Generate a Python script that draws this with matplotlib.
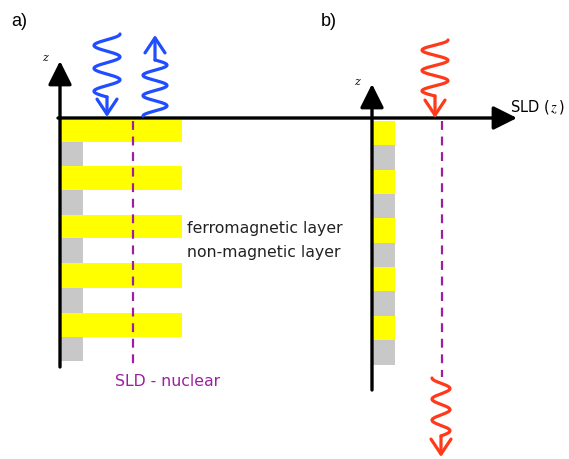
import matplotlib
matplotlib.use('Agg')
import matplotlib.pyplot as plt
import numpy as np
from matplotlib.patches import Rectangle

plt.rcParams['mathtext.fontset'] = 'stix'

W, H = 569, 459

# ---- data (layer boundaries, pixel-like depth units) ----
fm_top_a = [120, 166, 215, 263, 313]
fm_bot_a = [142, 190, 238, 288, 337]
nm_top_a = [142, 190, 238, 288, 337]
nm_bot_a = [166, 215, 263, 313, 361]
fm_top_b = [121, 170, 218, 267, 316]
fm_bot_b = [145, 194, 243, 291, 340]
nm_top_b = [145, 194, 243, 291, 340]
nm_bot_b = [170, 218, 267, 316, 365]
sld_fm_a, sld_nm_a = 122, 23      # bar lengths, panel a
sld_fm_b, sld_nm_b = 23, 23       # bar lengths, panel b
nuclear_a, nuclear_b = 133, 442   # nuclear SLD positions
labels_layers = ['ferromagnetic layer', 'non-magnetic layer']

YELLOW = '#ffff00'
GREY = '#c8c8c8'
PURPLE = '#9b1fa0'
BLUE = '#1f4dff'
RED = '#ff3a1a'

fig = plt.figure(figsize=(W / 100, H / 100), dpi=100)
ax = fig.add_axes([0, 0, 1, 1])
ax.set_xlim(0, W)
ax.set_ylim(H, 0)
ax.axis('off')

def layers(x0, tops, bots, length, color):
    for t, b in zip(tops, bots):
        ax.add_patch(Rectangle((x0, t), length, b - t, facecolor=color,
                               edgecolor='none', zorder=1))

# panel a
layers(60, fm_top_a, fm_bot_a, sld_fm_a, YELLOW)
layers(60, nm_top_a, nm_bot_a, sld_nm_a, GREY)
# panel b
layers(372, fm_top_b, fm_bot_b, sld_fm_b, YELLOW)
layers(372, nm_top_b, nm_bot_b, sld_nm_b, GREY)

# axes arrows
axkw = dict(arrowstyle='-|>,head_length=0.8,head_width=0.4', color='black',
            lw=2.4, mutation_scale=18, shrinkA=0, shrinkB=0)
ax.annotate('', xy=(60, 61), xytext=(60, 367), arrowprops=axkw, zorder=3)
ax.annotate('', xy=(372, 84), xytext=(372, 390), arrowprops=axkw, zorder=3)
ax.annotate('', xy=(517, 118), xytext=(58, 118), arrowprops=axkw, zorder=3)

# nuclear SLD dashed lines
ax.plot([nuclear_a, nuclear_a], [121, 366], color=PURPLE, lw=1.6,
        dashes=(4, 3), zorder=2)
ax.plot([nuclear_b, nuclear_b], [121, 377], color=PURPLE, lw=1.6,
        dashes=(4, 3), zorder=2)

# wavy neutron beams: start at a crest, end at the centre line
def squiggle(xc, y0, y1, amp, n_periods, color, sign=1):
    t = np.linspace(0, 1, 300)
    y = y0 + (y1 - y0) * t
    x = xc + sign * amp * np.cos(2 * np.pi * n_periods * t)
    ax.plot(x, y, color=color, lw=2.3, solid_capstyle='round',
            solid_joinstyle='round', zorder=4)

hkw = dict(arrowstyle='->,head_length=0.6,head_width=0.4', lw=2.3,
           mutation_scale=18, shrinkA=0, shrinkB=0)

# blue incoming (down)
squiggle(107, 34, 97, 13, 2.75, BLUE)
ax.annotate('', xy=(107, 117), xytext=(107, 97),
            arrowprops=dict(hkw, color=BLUE), zorder=4)
# blue reflected (up)
squiggle(155, 116, 60, 12, 2.75, BLUE, sign=-1)
ax.annotate('', xy=(155, 35), xytext=(155, 60),
            arrowprops=dict(hkw, color=BLUE), zorder=4)
# red incoming (down)
squiggle(435, 40, 96, 13, 2.75, RED)
ax.annotate('', xy=(435, 118), xytext=(435, 96),
            arrowprops=dict(hkw, color=RED), zorder=4)
# red transmitted (down)
squiggle(441, 378, 436, 9, 2.75, RED, sign=-1)
ax.annotate('', xy=(441, 457), xytext=(441, 436),
            arrowprops=dict(hkw, color=RED), zorder=4)

# texts
fam = 'DejaVu Sans'
ax.text(11, 21, 'a)', fontsize=13, family='Liberation Sans', va='center', ha='left')
ax.text(321, 21, 'b)', fontsize=13, family='Liberation Sans', va='center', ha='left')
ax.text(45, 58, 'z', fontsize=8, family='DejaVu Serif', style='italic',
        ha='center', va='center')
ax.text(357, 82, 'z', fontsize=8, family='DejaVu Serif', style='italic',
        ha='center', va='center')
ax.text(510, 107, r'SLD ($\,z\,$)', fontsize=10.5, family=fam, va='center', ha='left')
ax.text(187, 229, labels_layers[0], fontsize=11.3, family=fam, va='center',
        ha='left', color='#222222')
ax.text(187, 253, labels_layers[1], fontsize=11.3, family=fam, va='center',
        ha='left', color='#222222')
ax.text(115, 382, 'SLD - nuclear', fontsize=11.3, family=fam, va='center',
        ha='left', color=PURPLE)

fig.savefig('out.png', dpi=100)
